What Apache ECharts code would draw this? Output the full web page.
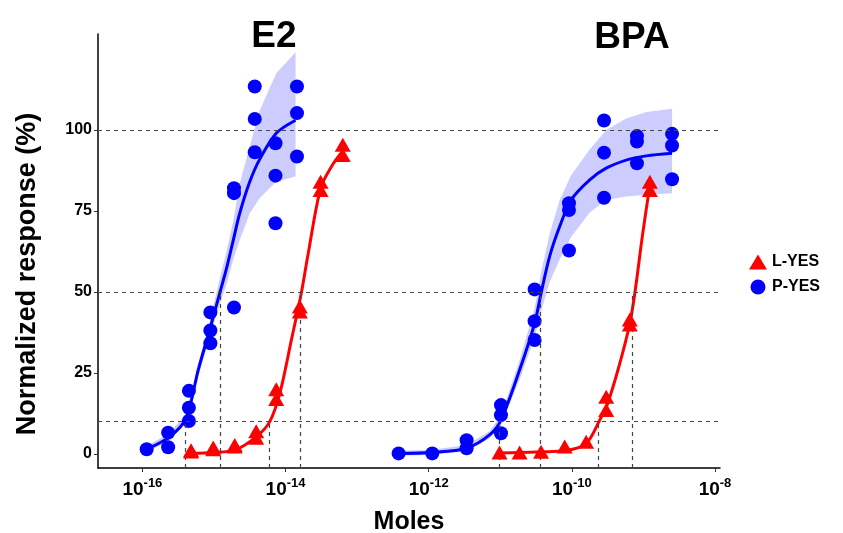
<!DOCTYPE html>
<html>
<head>
<meta charset="UTF-8">
<title>E2 / BPA</title>
<script type="text/javascript" src="https://cdn.jsdelivr.net/npm/echarts@6/dist/echarts.min.js"></script>
<style>
  body{margin:0;background:#fff}
</style>
</head>
<body>
<div id="main" style="width:843px;height:533px"></div>
<script type="text/javascript">
// x values are log10(moles)
var xTicks = [-16, -14, -12, -10, -8];
var yTicks = [0, 25, 50, 75, 100];
var refLevels = [10, 50, 100];
// [log10 moles, level] for EC10 / EC50 drop lines
var ecLines = [[-15.395, 10], [-14.911, 50], [-14.222, 10], [-13.789, 50],
               [-11.010, 10], [-10.437, 50], [-9.627, 10], [-9.152, 50]];

// measured points
var e2Pyes = [[-15.94,1.5],[-15.64,2.1],[-15.64,6.6],[-15.35,10.2],[-15.35,14.3],[-15.35,19.5],
  [-15.05,34.2],[-15.05,38.1],[-15.05,43.7],[-14.72,45.2],[-14.72,80.5],[-14.72,82],
  [-14.43,93.1],[-14.43,103.4],[-14.43,113.4],[-14.14,71.2],[-14.14,85.9],[-14.14,95.9],
  [-13.84,91.8],[-13.84,105.2],[-13.84,113.4]];
var e2Lyes = [[-15.32,0.8],[-15.32,1.2],[-15.01,1.5],[-15.01,2],[-14.71,2.3],[-14.71,2.8],
  [-14.41,5],[-14.41,7],[-14.13,17],[-14.13,20],[-13.80,44],[-13.80,45.5],
  [-13.51,81.5],[-13.51,84],[-13.20,92.3],[-13.20,95.4]];
var bpaPyes = [[-12.42,0.2],[-11.95,0.2],[-11.47,1.8],[-11.47,4.3],[-10.99,6.4],[-10.99,12],
  [-10.99,15.1],[-10.52,35.2],[-10.52,41],[-10.52,50.8],[-10.04,62.8],[-10.04,75.3],
  [-10.04,77.4],[-9.55,79.1],[-9.55,93],[-9.55,102.9],[-9.09,89.7],[-9.09,96.4],
  [-9.09,98.1],[-8.60,84.8],[-8.60,95.2],[-8.60,98.8]];
var bpaLyes = [[-11.01,0.5],[-10.73,0.5],[-10.43,0.7],[-10.10,2.3],[-9.80,3.8],[-9.52,13.6],
  [-9.52,17.7],[-9.19,40],[-9.19,41.5],[-8.91,81.5],[-8.91,84]];

// fitted curves
var e2PyesFit = [[-15.94,1.5],[-15.62,5.3],[-15.39,11],[-15.22,25.9],[-15.06,38.3],[-14.92,49.6],
  [-14.83,56.8],[-14.73,66],[-14.64,74.3],[-14.50,84],[-14.36,91],[-14.13,99],[-13.86,103]];
var e2LyesFit = [[-15.32,0.2],[-15.01,0.5],[-14.71,1.2],[-14.41,5.3],[-14.22,10],[-14.08,18.7],
  [-13.92,35],[-13.78,49.6],[-13.69,61],[-13.51,82],[-13.35,89],[-13.20,93.5]];
var bpaPyesFit = [[-12.42,0.2],[-11.95,0.5],[-11.47,1.8],[-11.15,5.9],[-10.99,10.5],[-10.73,25.9],
  [-10.52,40.3],[-10.43,49.6],[-10.31,61],[-10.17,70.2],[-10.01,78.4],[-9.75,84.6],
  [-9.52,88.2],[-9.24,90.7],[-8.96,92.0],[-8.60,92.8]];
var bpaLyesFit = [[-11.01,0.3],[-10.73,0.5],[-10.43,0.7],[-10.10,1.0],[-9.80,3.3],[-9.61,10.5],
  [-9.50,15.6],[-9.33,28],[-9.19,40.3],[-9.12,49.6],[-9.01,68],[-8.91,83]];

// confidence bands [x, lower, upper]
var e2PyesBand = [[-15.94,0.5,2.5],[-15.62,4.2,6.5],[-15.39,9.8,12.5],[-15.22,24,28],[-15.06,36,41],
  [-14.92,46,54],[-14.83,52,62],[-14.73,60,72],[-14.64,66,83.5],[-14.50,74.3,95],
  [-14.36,79,106],[-14.13,84,117.5],[-13.86,85.6,124]];
var bpaPyesBand = [[-12.42,-0.5,1],[-11.95,-0.3,1.3],[-11.47,1,2.8],[-11.15,4.8,7],[-10.99,9,12],
  [-10.73,23,29],[-10.52,36,45],[-10.43,44,56],[-10.31,53,68],[-10.17,60,78.4],
  [-10.01,67,86],[-9.75,74.5,94],[-9.52,78.4,100],[-9.24,79.5,103.5],[-8.96,80,105.5],
  [-8.60,80.5,106.5]];

var FONT = 'Liberation Sans, Arial, sans-serif';
var BLUE = '#0000ff', RED = '#ff0000';
var X_MIN = -16.62, X_MAX = -7.93, Y_MIN = -4.3, Y_MAX = 129.6;

function bandSeries(band) {
  return {
    type: 'custom',
    silent: true,
    z: 1,
    data: band,
    renderItem: function (params, api) {
      if (params.dataIndex !== 0) return null;
      var pts = [];
      band.forEach(function (r) { pts.push(api.coord([r[0], r[2]])); });
      band.slice().reverse().forEach(function (r) { pts.push(api.coord([r[0], r[1]])); });
      return { type: 'polygon', shape: { points: pts }, style: { fill: 'rgba(0,0,255,0.2)' } };
    }
  };
}
function fitSeries(name, pts, color) {
  return {
    name: name, type: 'line', data: pts, smooth: 0.3, showSymbol: false, silent: true, z: 3,
    lineStyle: { color: color, width: 3 }
  };
}

var dropLines = ecLines.map(function (e) {
  return [{ coord: [e[0], Y_MIN] }, { coord: [e[0], e[1]] }];
});
var hLines = refLevels.map(function (v) { return { yAxis: v }; });

var myChart = echarts.init(document.getElementById('main'));
var option = {
  animation: false,
  textStyle: { fontFamily: FONT },
  graphic: [
    { type: 'text', x: 274, y: 37, style: { text: 'E2', font: 'bold 37px ' + FONT, fill: '#000', align: 'center', verticalAlign: 'middle' } },
    { type: 'text', x: 632, y: 38, style: { text: 'BPA', font: 'bold 37px ' + FONT, fill: '#000', align: 'center', verticalAlign: 'middle' } },
    // y axis title
    { type: 'text', x: 28, y: 274, rotation: Math.PI / 2,
      style: { text: 'Normalized response (%)', font: 'bold 27px ' + FONT, fill: '#000', align: 'center', verticalAlign: 'middle' } }
  ],
  legend: {
    orient: 'vertical', left: 744, top: 249, itemGap: 9, itemWidth: 18, itemHeight: 15,
    textStyle: { fontFamily: FONT, fontWeight: 'bold', fontSize: 16, color: '#000' },
    data: [{ name: 'L-YES', icon: 'triangle' }, { name: 'P-YES', icon: 'circle' }]
  },
  grid: { left: 98, right: 123, top: 34, bottom: 65, outerBoundsMode: 'none' },
  xAxis: {
    type: 'value', min: X_MIN, max: X_MAX,
    name: 'Moles', nameLocation: 'middle', nameGap: 42,
    nameTextStyle: { fontFamily: FONT, fontWeight: 'bold', fontSize: 25, color: '#000' },
    splitLine: { show: false },
    axisLine: { onZero: false, lineStyle: { color: '#000', width: 1.5 } },
    axisTick: { customValues: xTicks, length: 4, lineStyle: { color: '#333' } },
    axisLabel: {
      customValues: xTicks, margin: 9,
      formatter: function (v) { return '{b|10}{s|' + v + '}'; },
      rich: {
        b: { fontFamily: FONT, fontWeight: 'bold', fontSize: 19, color: '#000', lineHeight: 26 },
        s: { fontFamily: FONT, fontWeight: 'bold', fontSize: 13, color: '#000', lineHeight: 12, verticalAlign: 'top' }
      }
    }
  },
  yAxis: {
    type: 'value', min: Y_MIN, max: Y_MAX,
    splitLine: { show: false },
    axisLine: { show: true, onZero: false, lineStyle: { color: '#000', width: 1.5 } },
    axisTick: { show: true, customValues: yTicks, length: 4, lineStyle: { color: '#333' } },
    axisLabel: { customValues: yTicks, margin: 6, fontFamily: FONT, fontWeight: 'bold', fontSize: 16, color: '#000' }
  },
  series: [
    bandSeries(e2PyesBand),
    bandSeries(bpaPyesBand),
    {
      type: 'line', data: [], silent: true, z: 2,
      markLine: {
        silent: true, symbol: 'none', label: { show: false },
        lineStyle: { color: '#444', type: [4, 4], width: 1.2 },
        data: hLines.concat(dropLines)
      }
    },
    fitSeries('E2 P-YES fit', e2PyesFit, BLUE),
    fitSeries('BPA P-YES fit', bpaPyesFit, BLUE),
    fitSeries('E2 L-YES fit', e2LyesFit, RED),
    fitSeries('BPA L-YES fit', bpaLyesFit, RED),
    {
      name: 'P-YES', type: 'scatter', symbol: 'circle', symbolSize: 14, z: 4,
      itemStyle: { color: BLUE, opacity: 1 }, data: e2Pyes.concat(bpaPyes)
    },
    {
      name: 'L-YES', type: 'scatter', symbol: 'triangle', symbolSize: [16, 14], z: 5,
      itemStyle: { color: RED, opacity: 1 }, data: e2Lyes.concat(bpaLyes)
    }
  ]
};
myChart.setOption(option);
</script>
</body>
</html>
